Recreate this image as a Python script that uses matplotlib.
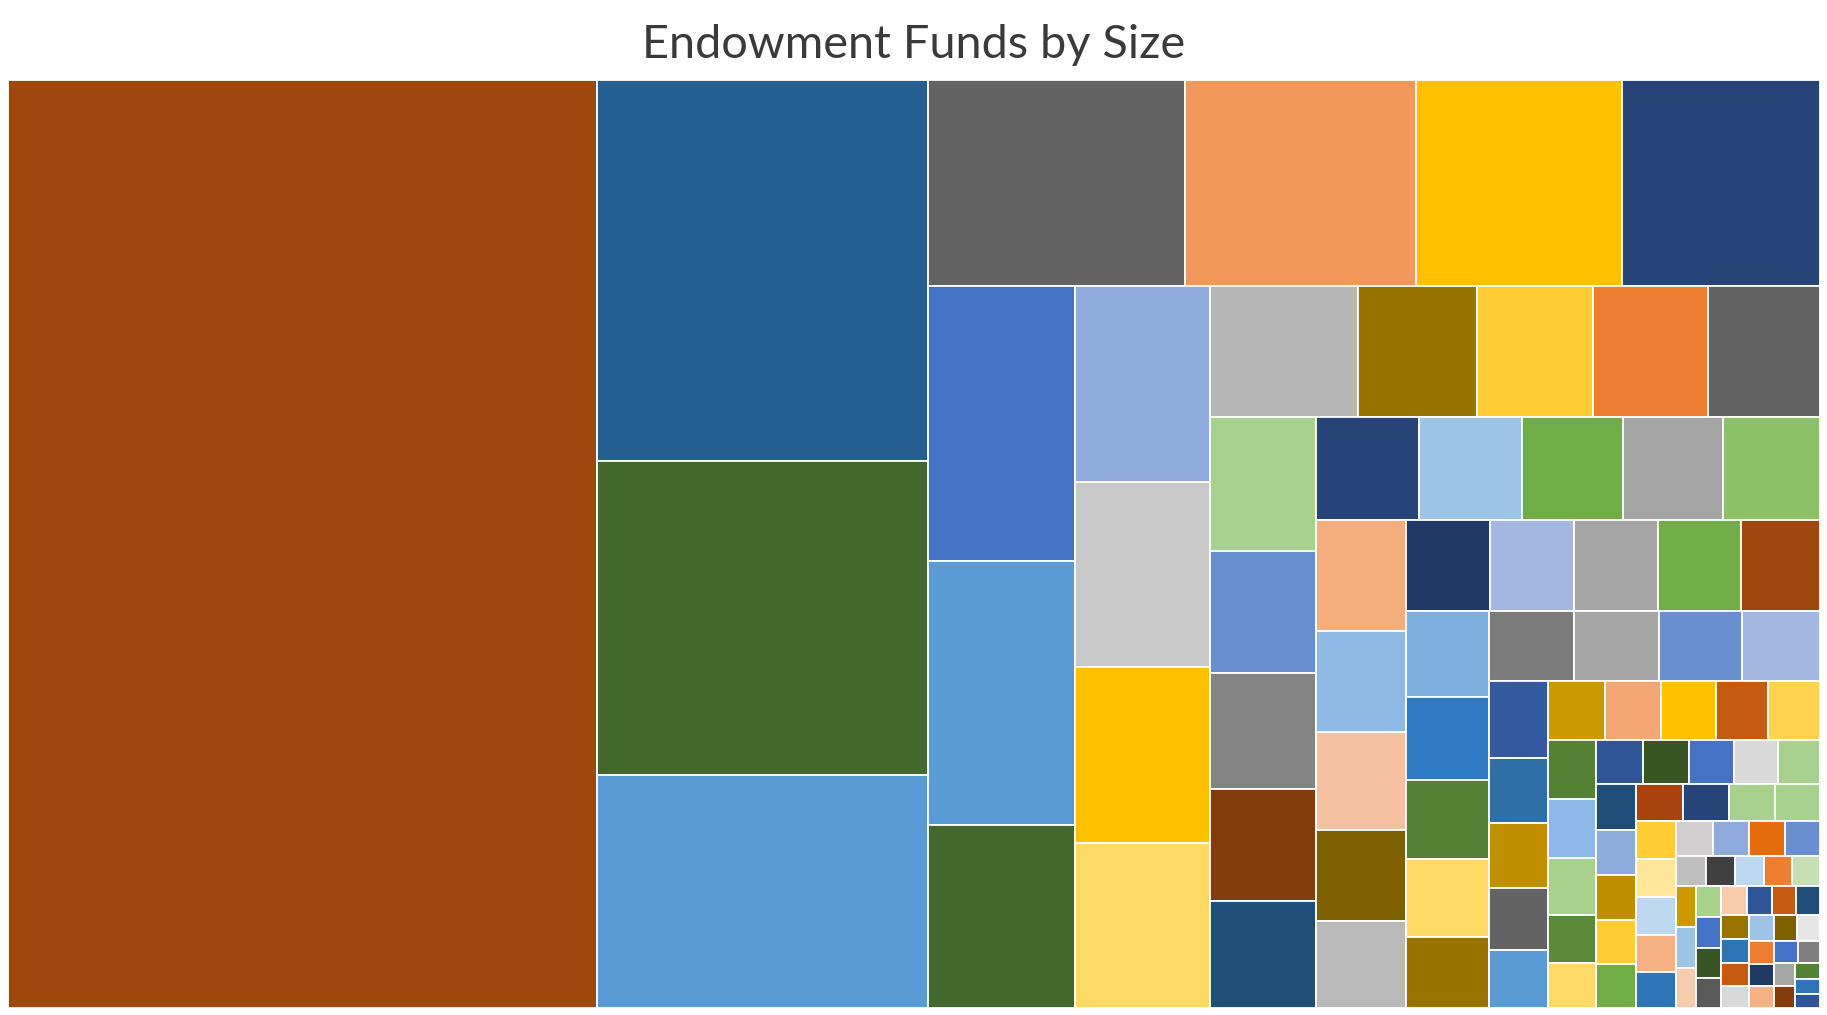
import matplotlib
matplotlib.use("Agg")
import matplotlib.pyplot as plt
from matplotlib.patches import Rectangle

# ---------------- data (relative fund sizes, largest first) ----------------
title = "Endowment Funds by Size"

sizes = [
    40.0, 9.21, 7.59, 5.63,
    3.87, 3.47, 3.10, 2.98,
    2.97, 2.85, 1.97,
    1.94, 1.82, 1.74, 1.63,
    1.41, 1.14, 1.12, 1.10, 1.07,
    1.04, 0.945, 0.90, 0.864, 0.828,
    0.776, 0.772, 0.760, 0.752, 0.733,
    0.730, 0.660, 0.645, 0.595, 0.570,
    0.565, 0.562, 0.558, 0.555, 0.532,
    0.525, 0.504, 0.478, 0.474, 0.434,
    0.434, 0.430, 0.423, 0.395,
    0.330, 0.280, 0.280, 0.265, 0.250,
    0.248, 0.243, 0.242, 0.226, 0.224,
    0.209, 0.207, 0.204, 0.168, 0.160,
    0.150, 0.145, 0.142, 0.140, 0.135,
    0.134, 0.133, 0.131, 0.129, 0.127,
    0.126, 0.125, 0.124, 0.123,
    0.112, 0.111, 0.110, 0.108, 0.106,
    0.095, 0.093, 0.092, 0.090,
    0.066, 0.065, 0.064, 0.063, 0.062,
    0.061, 0.060, 0.059,
    0.058, 0.057, 0.056, 0.055, 0.054,
    0.053, 0.052, 0.050, 0.049, 0.048,
    0.047, 0.046, 0.045, 0.044, 0.043,
    0.042, 0.041, 0.040, 0.038, 0.036,
    0.034, 0.032, 0.030, 0.028, 0.026,
]

colors = [
    "#9E480E", "#255E91", "#43682B", "#5B9BD5",
    "#636363", "#F1975A", "#FFC000", "#264478",
    "#4472C4", "#5B9BD5", "#43682B",
    "#8FAADC", "#C9C9C9", "#FFC000", "#FFD966",
    "#B7B7B7", "#997300", "#FFCD33", "#ED7D31", "#636363",
    "#A9D18E", "#698ED0", "#848484", "#843C0C", "#1F4E79",
    "#264478", "#9DC3E6", "#70AD47", "#A5A5A5", "#8CC168",
    "#F4AE7E", "#8EB9E4", "#F6C1A0", "#7F6000", "#B9B9B9",
    "#203864", "#A3B7E0", "#A5A5A5", "#70AD47", "#9E480E",
    "#7CAFDD", "#2E7BC4", "#548235", "#FFD966", "#997300",
    "#7B7B7B", "#A5A5A5", "#698ED0", "#A3B7E0",
    "#335AA1", "#2E6FA8", "#BF8F00", "#636363", "#5B9BD5",
    "#CC9A00", "#F4A773", "#FFC000", "#C55A11", "#FFD34F",
    "#548235", "#8DB8E8", "#A9D18E", "#5A8A39", "#FFD966",
    "#2F5597", "#375623", "#4472C4", "#D9D9D9", "#A9D18E",
    "#1F4E79", "#8FAADC", "#BF8F00", "#FFCD33", "#70AD47",
    "#A9440F", "#264478", "#A9D18E", "#A9D18E",
    "#FFCD33", "#FFE699", "#BDD7EE", "#F4B183", "#2E75B6",
    "#D0CECE", "#8FAADC", "#E46C0A", "#698ED0",
    "#BFBFBF", "#404040", "#BDD7EE", "#ED7D31", "#C5E0B4",
    "#CC9A00", "#9DC3E6", "#F8CBAD",
    "#A9D18E", "#4472C4", "#375623", "#595959", "#F8CBAD",
    "#2F5597", "#C55A11", "#1F4E79", "#997300", "#2E75B6",
    "#C55A11", "#D9D9D9", "#9DC3E6", "#7F6000", "#E7E6E6",
    "#ED7D31", "#203864", "#F4B183", "#4472C4", "#7F7F7F",
    "#A6A6A6", "#843C0C", "#548235", "#2E75B6", "#2F5597",
]

# Excel-style strip grouping: tiles per strip and strip orientation
# ('C' = vertical strip on the left, 'R' = horizontal strip on top)
strip_counts = [1, 3, 4, 3, 4, 5, 5, 5, 5, 5, 5, 4, 5, 5, 5, 5, 5, 4, 5, 4, 5, 3]
strip_dirs = "CCRCCRCRCRCRCRCRCRCRRC"

# ---------------- squarified treemap layout ----------------
def strip(sz, x, y, dx, dy, vertical):
    rects = []
    if vertical:
        width = sum(sz) / dy
        for s in sz:
            rects.append((x, y, width, s / width))
            y += s / width
    else:
        height = sum(sz) / dx
        for s in sz:
            rects.append((x, y, s / height, height))
            x += s / height
    return rects

def rest(sz, x, y, dx, dy, vertical):
    if vertical:
        width = sum(sz) / dy
        return x + width, y, dx - width, dy
    height = sum(sz) / dx
    return x, y + height, dx, dy - height

def worst(sz, x, y, dx, dy, vertical):
    return max(max(r[2] / r[3], r[3] / r[2]) for r in strip(sz, x, y, dx, dy, vertical))

def squarify(sz, x, y, dx, dy, counts, dirs):
    if not sz:
        return []
    if counts:
        i = min(counts[0], len(sz))
        vertical = dirs[0] == "C"
        counts, dirs = counts[1:], dirs[1:]
    else:
        vertical = dx >= dy
        i = 1
        while i < len(sz) and worst(sz[:i], x, y, dx, dy, vertical) >= worst(sz[:i + 1], x, y, dx, dy, vertical):
            i += 1
    cur, rem = sz[:i], sz[i:]
    nx, ny, ndx, ndy = rest(cur, x, y, dx, dy, vertical)
    return strip(cur, x, y, dx, dy, vertical) + squarify(rem, nx, ny, ndx, ndy, counts, dirs)

W, H = 1812.0, 928.0
total = sum(sizes)
norm = [v * W * H / total for v in sizes]
rects = squarify(norm, 0.0, 0.0, W, H, strip_counts, strip_dirs)

# ---------------- drawing ----------------
fig = plt.figure(figsize=(18.27, 10.15), dpi=100)
fig.patch.set_facecolor("white")
ax = fig.add_axes([8 / 1827, 7 / 1015, 1812 / 1827, 928 / 1015])
ax.set_xlim(0, W)
ax.set_ylim(H, 0)
ax.axis("off")

for (rx, ry, rw, rh), c in zip(rects, colors):
    ax.add_patch(Rectangle((rx, ry), rw, rh, facecolor=c, edgecolor="white",
                           linewidth=1.3))

t = fig.text(914 / 1827, 1 - 58 / 1015, title, ha="center", va="baseline",
             fontsize=30, color="#3A3A3A", family=["Lato", "DejaVu Sans"])
fig.canvas.draw()
bb = t.get_window_extent(renderer=fig.canvas.get_renderer())
t.set_fontsize(30 * 543.0 / bb.width)

fig.savefig("out.png", dpi=100, facecolor="white")
